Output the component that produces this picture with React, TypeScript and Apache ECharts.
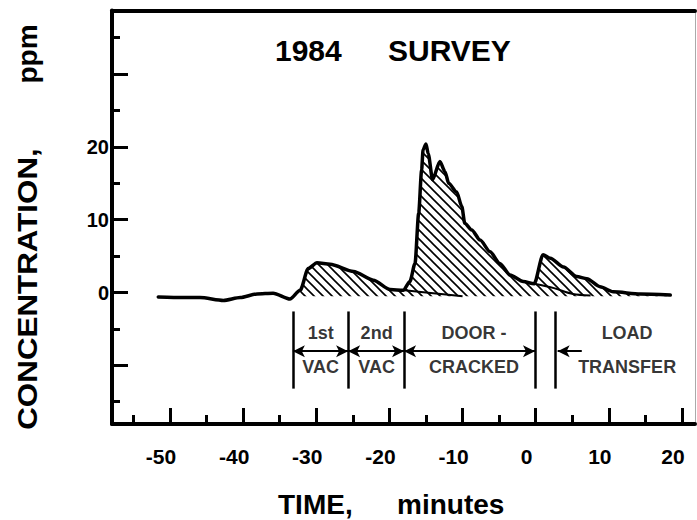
import React, { useEffect, useRef } from "react";
import * as echarts from "echarts";

// Concentration trace (minutes, ppm)
const timeMin = [
  -51.6, -48.2, -45.9, -42.7, -40.4, -38.1, -35.9, -33.6, -32.2, -31.1, -29.9,
  -28.1, -24.9, -22.2, -19.9, -18.1, -17.2, -16.5, -16.0, -15.6, -15.4, -15.0,
  -14.7, -14.1, -13.1, -12.4, -11.9, -10.8, -10.1, -9.7, -8.75, -7.6, -6.25,
  -4.9, -3.5, -1.7, -0.2, 1.0, 2.0, 3.8, 5.6, 7.0, 8.8, 10.6, 14.3, 18.4,
];
const concPpm = [
  -0.6, -0.7, -0.7, -1.1, -0.7, -0.2, -0.1, -0.9, 0.3, 3.3, 4.1,
  3.9, 2.9, 1.7, 0.4, 0.3, 1.5, 4.0, 10.9, 16.8, 19.6, 20.4,
  19.1, 15.5, 18.0, 16.6, 15.0, 13.8, 11.8, 9.5, 8.6, 7.2, 5.6,
  4.0, 2.4, 1.5, 1.2, 5.2, 4.7, 3.5, 2.2, 1.9, 0.8, 0.1, -0.2, -0.35,
];
// decaying tails of earlier peaks drawn underneath later peaks
const tail1Time = [-17.9, -14.0, -10.0];
const tail1Ppm = [0.3, -0.1, -0.5];
const tail2Time = [-0.2, 2.5, 5.1, 7.5];
const tail2Ppm = [1.2, 0.6, -0.2, -0.4];

const hatchStartMin = -32.3;
const hatchBasePpm = -0.5;

// axis ticks
const xMajorTicks = [-50, -40, -30, -20, -10, 0, 10, 20];
const xMinorTicks = [-55, -45, -35, -25, -15, -5, 5, 15];
const yMajorTicks = [-10, 0, 10, 20, 30];
const yMinorTicks = [-15, -5, 5, 15, 25, 35];
const yTickLabels = [0, 10, 20];

// phase annotations (minutes)
const phaseBounds = [-33.2, -25.65, -18.0, -0.1, 2.65];
const phaseTop = ["1st", "2nd", "DOOR -", "LOAD"];
const phaseBottom = ["VAC", "VAC", "CRACKED", "TRANSFER"];
const phaseCenters = [-29.4, -21.75, -8.45, 12.5];
const loadArrow = [3.0, 6.3];

const FONT = '"Liberation Sans", Arial, Helvetica, sans-serif';

export default function App() {
  const ref = useRef<HTMLDivElement>(null);

  useEffect(() => {
    if (!ref.current) return;
    const chart = echarts.init(ref.current, null, { renderer: "svg" });

    const tile = 9;
    const cv = document.createElement("canvas");
    cv.width = tile;
    cv.height = tile;
    const g = cv.getContext("2d")!;
    g.strokeStyle = "#000";
    g.lineWidth = 1.6;
    g.beginPath();
    g.moveTo(-1, -1);
    g.lineTo(tile + 1, tile + 1);
    g.moveTo(-1, tile - 1);
    g.lineTo(1, tile + 1);
    g.moveTo(tile - 1, -1);
    g.lineTo(tile + 1, 1);
    g.stroke();

    const mainData = timeMin.map((t, i) => [t, concPpm[i]]);
    const hatchData = mainData.filter((p) => p[0] >= hatchStartMin);
    const tail1 = tail1Time.map((t, i) => [t, tail1Ppm[i]]);
    const tail2 = tail2Time.map((t, i) => [t, tail2Ppm[i]]);

    const yTopRow = -5.6;
    const yBottomRow = -10.2;
    const yArrow = -8.05;
    const yLineTop = -2.6;
    const yLineBottom = -13.2;

    const labelData = [
      ...phaseTop.map((t, i) => ({ name: t, value: [phaseCenters[i], yTopRow] })),
      ...phaseBottom.map((t, i) => ({ name: t, value: [phaseCenters[i], yBottomRow] })),
    ];

    const markData: any[] = [];
    phaseBounds.forEach((b) => {
      markData.push([
        { coord: [b, yLineTop], symbol: "none" },
        { coord: [b, yLineBottom], symbol: "none" },
      ]);
    });
    for (let i = 0; i < 3; i++) {
      markData.push([
        { coord: [phaseBounds[i], yArrow], symbol: "arrow", lineStyle: { width: 2 } },
        { coord: [phaseBounds[i + 1], yArrow], symbol: "arrow" },
      ]);
    }
    markData.push([
      { coord: [loadArrow[0], yArrow], symbol: "arrow", lineStyle: { width: 2 } },
      { coord: [loadArrow[1], yArrow], symbol: "none" },
    ]);

    const xMin = -57.93;
    const xMax = 21.78;
    const yMin = -18.06;
    const yMax = 38.74;

    const textStyle = (text: string, size: number, align: string) => ({
      text,
      font: `bold ${size}px ${FONT}`,
      fill: "#000",
      align,
      verticalAlign: "middle",
      textAlign: align,
      textVerticalAlign: "middle",
    });

    const option: any = {
      animation: false,
      grid: { left: 112, right: 2, top: 10.5, bottom: 96, containLabel: false },
      xAxis: [
        {
          type: "value",
          min: xMin,
          max: xMax,
          position: "bottom",
          axisLine: { onZero: false, lineStyle: { color: "#000", width: 4 } },
          axisTick: {
            inside: true,
            length: 16,
            customValues: xMajorTicks,
            lineStyle: { color: "#000", width: 3 },
          },
          axisLabel: {
            customValues: xMajorTicks,
            color: "#000",
            fontSize: 21,
            fontWeight: "bold",
            fontFamily: FONT,
            margin: 22,
            padding: [0, 18, 0, 0],
          },
          splitLine: { show: false },
        },
        {
          type: "value",
          min: xMin,
          max: xMax,
          position: "bottom",
          axisLine: { show: false, onZero: false },
          axisTick: {
            inside: true,
            length: 9,
            customValues: xMinorTicks,
            lineStyle: { color: "#000", width: 3 },
          },
          axisLabel: { show: false },
          splitLine: { show: false },
        },
        {
          type: "value",
          min: xMin,
          max: xMax,
          position: "top",
          axisLine: { onZero: false, lineStyle: { color: "#000", width: 4 } },
          axisTick: { show: false },
          axisLabel: { show: false },
          splitLine: { show: false },
        },
      ],
      yAxis: [
        {
          type: "value",
          min: yMin,
          max: yMax,
          position: "left",
          axisLine: { onZero: false, lineStyle: { color: "#000", width: 4 } },
          axisTick: {
            inside: true,
            length: 16,
            customValues: yMajorTicks,
            lineStyle: { color: "#000", width: 3 },
          },
          axisLabel: {
            customValues: yTickLabels,
            color: "#000",
            fontSize: 20,
            fontWeight: "bold",
            fontFamily: FONT,
            margin: 3,
          },
          splitLine: { show: false },
        },
        {
          type: "value",
          min: yMin,
          max: yMax,
          position: "left",
          axisLine: { show: false, onZero: false },
          axisTick: {
            inside: true,
            length: 8,
            customValues: yMinorTicks,
            lineStyle: { color: "#000", width: 3 },
          },
          axisLabel: { show: false },
          splitLine: { show: false },
        },
        {
          type: "value",
          min: yMin,
          max: yMax,
          position: "right",
          axisLine: { onZero: false, lineStyle: { color: "#aaa", width: 1 } },
          axisTick: { show: false },
          axisLabel: { show: false },
          splitLine: { show: false },
        },
      ],
      series: [
        {
          name: "hatch",
          type: "line",
          data: hatchData,
          smooth: 0.25,
          smoothMonotone: "x",
          showSymbol: false,
          silent: true,
          lineStyle: { width: 0, opacity: 0 },
          areaStyle: {
            origin: hatchBasePpm,
            opacity: 1,
            color: { image: cv, repeat: "repeat", imageWidth: tile, imageHeight: tile },
          },
          z: 1,
        },
        {
          name: "tail1",
          type: "line",
          data: tail1,
          smooth: 0.3,
          showSymbol: false,
          silent: true,
          lineStyle: { color: "#000", width: 2 },
          z: 2,
        },
        {
          name: "tail2",
          type: "line",
          data: tail2,
          smooth: 0.3,
          showSymbol: false,
          silent: true,
          lineStyle: { color: "#000", width: 2 },
          z: 2,
        },
        {
          name: "concentration",
          type: "line",
          data: mainData,
          smooth: 0.25,
          smoothMonotone: "x",
          showSymbol: false,
          silent: true,
          lineStyle: { color: "#000", width: 3.5, join: "round", cap: "round" },
          z: 3,
        },
        {
          name: "phases",
          type: "scatter",
          data: labelData,
          symbolSize: 1,
          silent: true,
          itemStyle: { color: "rgba(0,0,0,0)" },
          label: {
            show: true,
            position: "inside",
            formatter: "{b}",
            color: "#000",
            fontSize: 18,
            fontWeight: "bold",
            fontFamily: FONT,
          },
          markLine: {
            silent: true,
            animation: false,
            symbolSize: [9, 12],
            label: { show: false },
            lineStyle: { color: "#000", width: 2.5, type: "solid" },
            emphasis: { disabled: true },
            data: markData,
          },
          z: 4,
        },
      ],
      graphic: [
        { type: "text", x: 275, y: 50.5, style: textStyle("1984", 30, "left") },
        { type: "text", x: 388, y: 50.5, style: textStyle("SURVEY", 30, "left") },
        {
          type: "text",
          x: 27,
          y: 289,
          rotation: Math.PI / 2,
          scaleX: 1.12,
          style: textStyle("CONCENTRATION,", 28, "center"),
        },
        {
          type: "text",
          x: 27,
          y: 54,
          rotation: Math.PI / 2,
          style: textStyle("ppm", 28, "center"),
        },
        { type: "text", x: 278, y: 504, style: textStyle("TIME,", 28, "left") },
        { type: "text", x: 397, y: 504, style: textStyle("minutes", 28, "left") },
      ],
    };

    chart.setOption(option);
    return () => chart.dispose();
  }, []);

  return (
    <div
      ref={ref}
      style={{ position: "fixed", left: 0, top: 0, width: 697, height: 520, background: "#fff" }}
    />
  );
}
